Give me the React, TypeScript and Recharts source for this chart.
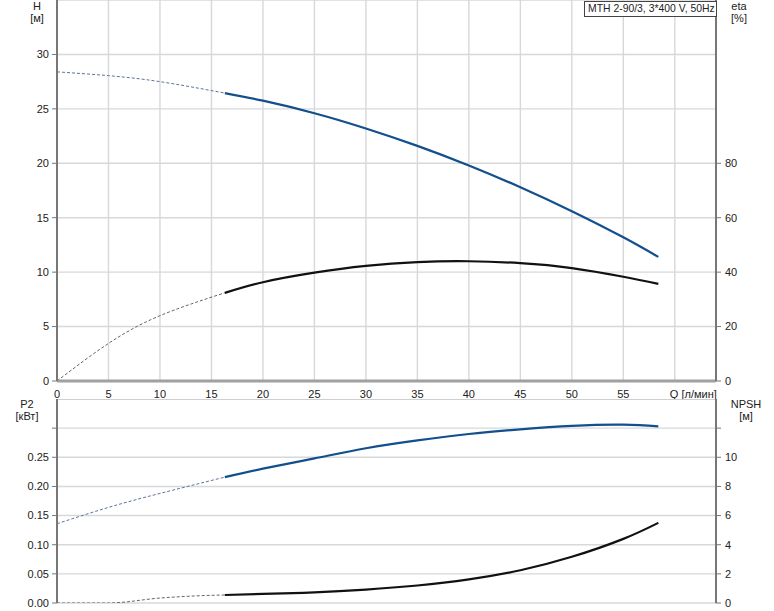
import React from "react";
import { LineChart, Line, XAxis, YAxis, CartesianGrid, ReferenceLine } from "recharts";

// flow axis and tick values
const qTicks = [0, 5, 10, 15, 20, 25, 30, 35, 40, 45, 50, 55, 60];
const hTicks = [0, 5, 10, 15, 20, 25, 30];
const etaTicks = [0, 20, 40, 60, 80];
const p2Ticks = [0, 0.05, 0.1, 0.15, 0.2, 0.25, 0.3];
const npshTicks = [0, 2, 4, 6, 8, 10, 12];

// curves outside the operating range (thin dashed)
const qH_ext = [0, 5, 10, 16.3];
const h_ext = [28.4, 28.05, 27.5, 26.45];
const qEta_ext = [0, 5, 10, 16.3];
const eta_ext = [0, 13.8, 24, 32.4];
const qP2_ext = [0, 5, 10, 16.3];
const p2_ext = [0.136, 0.164, 0.188, 0.216];
const qNpsh_ext = [0, 5, 10, 13.9, 16.3];
const npsh_ext = [0, 0, 0.34, 0.5, 0.55];

// operating range (solid)
const qOp = [16.3, 20, 25, 30, 35, 40, 45, 50, 55, 58.4];
const h_op = [26.45, 25.75, 24.6, 23.2, 21.6, 19.8, 17.8, 15.6, 13.2, 11.4];
const eta_op = [32.4, 36.3, 39.8, 42.3, 43.7, 44.0, 43.3, 41.5, 38.3, 35.7];
const p2_op = [0.216, 0.2305, 0.248, 0.2655, 0.279, 0.29, 0.298, 0.304, 0.306, 0.303];
const npsh_op = [0.55, 0.62, 0.73, 0.92, 1.2, 1.62, 2.25, 3.17, 4.4, 5.5];

const rows = (q: number[], v: number[]) => q.map((x, i) => ({ q: x, v: v[i] }));

const FONT = "'Liberation Sans', Arial, sans-serif";
const BLUE = "#124f8c";
const tickStyle = { fontSize: 11, fill: "#222", fontFamily: FONT };
const gridColor = "#d6d8da";

const QTick = (props: any) => {
  const { x, y, payload } = props;
  if (payload.value === 60) {
    return (
      <text x={x - 5} y={y + 9} fontSize={11} fill="#222" fontFamily={FONT} textAnchor="start">
        Q [л/мин]
      </text>
    );
  }
  return (
    <text x={x} y={y + 9} fontSize={11} fill="#222" fontFamily={FONT} textAnchor="middle">
      {payload.value}
    </text>
  );
};

const label = (text: string, left: number, top: number) => (
  <div
    style={{
      position: "absolute",
      left,
      top,
      fontSize: 11,
      lineHeight: "12px",
      color: "#222",
      whiteSpace: "nowrap",
      transform: "translateX(-50%)",
    }}
  >
    {text}
  </div>
);

export default function App() {
  return (
    <div style={{ position: "absolute", left: 0, top: 0, width: 774, height: 611, fontFamily: FONT, background: "#fff" }}>
      <div style={{ position: "absolute", left: 0, top: 0 }}>
        <LineChart width={774} height={399} margin={{ top: 0, right: 0, left: 0, bottom: 0 }}>
          <CartesianGrid stroke={gridColor} strokeWidth={1.4} />
          <XAxis
            type="number"
            dataKey="q"
            domain={[0, 64]}
            ticks={qTicks}
            height={18}
            tickLine={false}
            tick={QTick}
            axisLine={{ stroke: "#a0a0a0", strokeWidth: 3 }}
            allowDataOverflow
          />
          <YAxis
            yAxisId={0}
            width={57}
            domain={[0, 35]}
            ticks={hTicks}
            tick={tickStyle}
            tickSize={5}
            tickMargin={3}
            axisLine={{ stroke: "#777", strokeWidth: 2 }}
            tickLine={{ stroke: "#777" }}
            allowDataOverflow
          />
          <YAxis
            yAxisId="eta"
            orientation="right"
            width={58}
            domain={[0, 140]}
            ticks={etaTicks}
            tick={tickStyle}
            tickSize={5}
            tickMargin={4}
            axisLine={{ stroke: "#777", strokeWidth: 2 }}
            tickLine={{ stroke: "#777" }}
            allowDataOverflow
          />
          <Line data={rows(qH_ext, h_ext)} dataKey="v" type="natural" stroke="#5f729a" strokeWidth={1} strokeDasharray="3 2" dot={false} isAnimationActive={false} />
          <Line data={rows(qOp, h_op)} dataKey="v" type="natural" stroke={BLUE} strokeWidth={2.2} dot={false} isAnimationActive={false} />
          <Line yAxisId="eta" data={rows(qEta_ext, eta_ext)} dataKey="v" type="natural" stroke="#666" strokeWidth={1} strokeDasharray="3 2" dot={false} isAnimationActive={false} />
          <Line yAxisId="eta" data={rows(qOp, eta_op)} dataKey="v" type="natural" stroke="#111" strokeWidth={2.2} dot={false} isAnimationActive={false} />
        </LineChart>
      </div>
      <div style={{ position: "absolute", left: 0, top: 399 }}>
        <LineChart width={774} height={212} margin={{ top: 0, right: 0, left: 0, bottom: 8 }}>
          <CartesianGrid stroke={gridColor} strokeWidth={1.4} />
          <XAxis
            type="number"
            dataKey="q"
            domain={[0, 64]}
            ticks={qTicks}
            height={0}
            tick={false}
            tickLine={false}
            axisLine={{ stroke: "#a0a0a0", strokeWidth: 3 }}
            allowDataOverflow
          />
          <YAxis
            yAxisId={0}
            width={57}
            domain={[0, 0.35]}
            ticks={p2Ticks}
            tick={tickStyle}
            tickFormatter={(v: number) => (v >= 0.3 ? "" : v.toFixed(2))}
            tickSize={5}
            tickMargin={3}
            axisLine={{ stroke: "#777", strokeWidth: 2 }}
            tickLine={{ stroke: "#777" }}
            allowDataOverflow
          />
          <YAxis
            yAxisId="npsh"
            orientation="right"
            width={58}
            domain={[0, 14]}
            ticks={npshTicks}
            tick={tickStyle}
            tickFormatter={(v: number) => (v >= 12 ? "" : String(v))}
            tickSize={5}
            tickMargin={4}
            axisLine={{ stroke: "#777", strokeWidth: 2 }}
            tickLine={{ stroke: "#777" }}
            allowDataOverflow
          />
          <ReferenceLine y={0.35} stroke="#cfcfcf" strokeWidth={2} />
          <Line data={rows(qP2_ext, p2_ext)} dataKey="v" type="natural" stroke="#5f729a" strokeWidth={1} strokeDasharray="3 2" dot={false} isAnimationActive={false} />
          <Line data={rows(qOp, p2_op)} dataKey="v" type="natural" stroke={BLUE} strokeWidth={2.2} dot={false} isAnimationActive={false} />
          <Line yAxisId="npsh" data={rows(qNpsh_ext, npsh_ext)} dataKey="v" type="monotone" stroke="#666" strokeWidth={1} strokeDasharray="3 2" dot={false} isAnimationActive={false} />
          <Line yAxisId="npsh" data={rows(qOp, npsh_op)} dataKey="v" type="natural" stroke="#111" strokeWidth={2.2} dot={false} isAnimationActive={false} />
        </LineChart>
      </div>

      {label("H", 37, 0)}
      {label("[м]", 37, 12)}
      {label("eta", 739, 0)}
      {label("[%]", 739, 12)}
      {label("P2", 27, 398)}
      {label("[кВт]", 27, 410)}
      {label("NPSH", 746, 398)}
      {label("[м]", 746, 410)}

      <div
        style={{
          position: "absolute",
          left: 584,
          top: 1,
          width: 133,
          height: 16,
          boxSizing: "border-box",
          border: "1px solid #444",
          background: "#fff",
          fontSize: 10.4,
          lineHeight: "14px",
          color: "#222",
          paddingLeft: 3,
          whiteSpace: "nowrap",
        }}
      >
        MTH 2-90/3, 3*400 V, 50Hz
      </div>
    </div>
  );
}
